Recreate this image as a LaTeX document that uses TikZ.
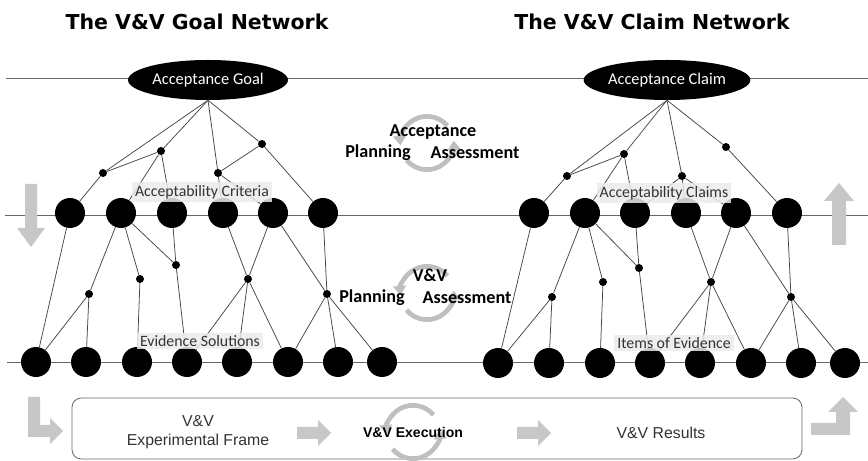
\documentclass[tikz,border=0pt]{standalone}
\usepackage{fontspec}
\setmainfont{Carlito}
\newfontfamily\arialfont{Liberation Sans}
\newfontfamily\heavyfont{DejaVu Sans}
\usetikzlibrary{arrows.meta,shapes.geometric}

\begin{document}
\begin{tikzpicture}[x=0.03cm, y=-0.03cm, >=Stealth]
  % pixel-like grid: x to the right, y downwards
  \tikzset{
    topnode/.style = {ellipse, fill=black, text=white, minimum width=4.8cm, minimum height=1.2cm, inner sep=0pt, font=\fontsize{14}{16}\selectfont},
    bignode/.style = {circle, fill=black, minimum size=0.9cm, inner sep=0pt},
    dot/.style     = {circle, fill=black, minimum size=0.24cm, inner sep=0pt},
    tie/.style     = {draw=black!72, line width=0.65pt},
    hline/.style   = {draw=black!60, line width=0.7pt},
    lab/.style     = {fill=black!8, fill opacity=0.85, text opacity=1, text=black!80, inner sep=2.5pt, font=\fontsize{13.5}{15}\selectfont},
    title/.style   = {font=\heavyfont\bfseries\fontsize{17.5}{20}\selectfont},
    phase/.style   = {font=\bfseries\fontsize{15.5}{17}\selectfont},
    boxtxt/.style  = {align=center, text=black!80, font=\arialfont\fontsize{13.5}{16}\selectfont},
    garrow/.style  = {fill=black!22},
    cyc/.style     = {draw=black!25, line width=4pt, -{Triangle[length=8pt, width=11pt]}},
    pics/turnaround/.style = {code={
      \draw[cyc] (40:0.8cm) arc[start angle=40, end angle=185, radius=0.8cm];
      \draw[cyc] (220:0.8cm) arc[start angle=220, end angle=365, radius=0.8cm];
    }}
  }
  \useasboundingbox (0,0) rectangle (868,461);

  % ========= titles =========
  \node[title] (gtitle) at (197,22) {The V\&V Goal Network};
  \node[title] (ctitle) at (652,22) {The V\&V Claim Network};

  % ========= the three levels =========
  \draw[hline] (6,78) -- (868,78);
  \draw[hline] (5,215) -- (868,215);
  \draw[hline] (7,362) -- (868,362);

  % ========= cycles in the middle =========
  \pic at (427,143) {turnaround};
  \node[phase] (acc) at (433,132) {Acceptance};
  \node[phase] (accp) at (378,153) {Planning};
  \node[phase] (acca) at (475,153) {Assessment};
  \pic at (427,293) {turnaround};
  \node[phase] (vv) at (430,275) {V\&V};
  \node[phase] (vvp) at (372,298) {Planning};
  \node[phase] (vva) at (467,298) {Assessment};

  % ========= Goal network =========
  \node[topnode] (goal) at (208,80) {Acceptance Goal};
  \node[dot] (gt1) at (103,173) {};
  \node[dot] (gt2) at (161,151) {};
  \node[dot] (gt3) at (218,173) {};
  \node[dot] (gt4) at (262,144) {};
  \foreach \x [count=\i] in {70,121,172,223,273,323} { \node[bignode] (gm\i) at (\x,213) {}; }
  \node[dot] (gj1) at (89,294) {};
  \node[dot] (gj2) at (140,279) {};
  \node[dot] (gj3) at (176,265) {};
  \node[dot] (gj4) at (248,279) {};
  \node[dot] (gj5) at (327,294) {};
  \foreach \x [count=\i] in {36,86,137,187,237,288,338,382} { \node[bignode] (gv\i) at (\x,362) {}; }
  % goal -> criteria
  \draw[tie] (goal.south) -- (gt1) -- (gm1);
  \draw[tie] (goal.south) -- (gt2);
  \draw[tie] (gt2) -- (gt1);
  \draw[tie] (gt2) -- (gm2);
  \draw[tie] (gt2) -- (gm3);
  \draw[tie] (goal.south) -- (gt3) -- (gm4);
  \draw[tie] (gt3) -- (gm5);
  \draw[tie] (gt3) -- (gt4);
  \draw[tie] (goal.south) -- (gt4) -- (gm6);
  % criteria -> evidence
  \draw[tie] (gm1) -- (gv1);
  \draw[tie] (gm2) -- (gj1);
  \draw[tie] (gj1) -- (gv1);
  \draw[tie] (gj1) -- (gv2);
  \draw[tie] (gm2) -- (gj2) -- (gv3);
  \draw[tie] (gm2) -- (gj3);
  \draw[tie] (gm3) -- (gj3) -- (gv4);
  \draw[tie] (gm4) -- (gj4);
  \draw[tie] (gm5) -- (gj4);
  \draw[tie] (gj4) -- (gv4);
  \draw[tie] (gj4) -- (gv5);
  \draw[tie] (gj4) -- (gv6);
  \draw[tie] (gm5) -- (gj5);
  \draw[tie] (gm6) -- (gj5);
  \draw[tie] (gj5) -- (gv6);
  \draw[tie] (gj5) -- (gv7);
  \draw[tie] (gj5) -- (gv8);
  \node[lab] (crit) at (202,192) {Acceptability Criteria};
  \node[lab] (sol) at (200,341) {Evidence Solutions};

  % ========= Claim network =========
  \node[topnode] (claim) at (667,80) {Acceptance Claim};
  \node[dot] (ct1) at (567,176) {};
  \node[dot] (ct2) at (624,154) {};
  \node[dot] (ct3) at (682,176) {};
  \node[dot] (ct4) at (726,147) {};
  \foreach \x [count=\i] in {534,585,635,686,736,787} { \node[bignode] (cm\i) at (\x,213) {}; }
  \node[dot] (cj1) at (552,297) {};
  \node[dot] (cj2) at (603,282) {};
  \node[dot] (cj3) at (639,268) {};
  \node[dot] (cj4) at (711,282) {};
  \node[dot] (cj5) at (791,297) {};
  \foreach \x [count=\i] in {498,549,600,650,700,751,801,845} { \node[bignode] (cv\i) at (\x,363) {}; }
  % claim -> claims
  \draw[tie] (claim.south) -- (ct1) -- (cm1);
  \draw[tie] (claim.south) -- (ct2);
  \draw[tie] (ct2) -- (ct1);
  \draw[tie] (ct2) -- (cm2);
  \draw[tie] (ct2) -- (cm3);
  \draw[tie] (claim.south) -- (ct3) -- (cm4);
  \draw[tie] (ct3) -- (cm3);
  \draw[tie] (ct3) -- (cm5);
  \draw[tie] (claim.south) -- (ct4) -- (cm6);
  % claims -> items
  \draw[tie] (cm1) -- (cv1);
  \draw[tie] (cm2) -- (cj1);
  \draw[tie] (cj1) -- (cv1);
  \draw[tie] (cj1) -- (cv2);
  \draw[tie] (cm2) -- (cj2) -- (cv3);
  \draw[tie] (cm2) -- (cj3);
  \draw[tie] (cm3) -- (cj3) -- (cv4);
  \draw[tie] (cm4) -- (cj4);
  \draw[tie] (cm5) -- (cj4);
  \draw[tie] (cj4) -- (cv4);
  \draw[tie] (cj4) -- (cv5);
  \draw[tie] (cj4) -- (cv6);
  \draw[tie] (cm5) -- (cj5);
  \draw[tie] (cm6) -- (cj5);
  \draw[tie] (cj5) -- (cv6);
  \draw[tie] (cj5) -- (cv7);
  \draw[tie] (cj5) -- (cv8);
  \node[lab] (aclaims) at (664,193) {Acceptability Claims};
  \node[lab] (items) at (674,343) {Items of Evidence};

  % ========= side arrows =========
  \fill[garrow] (25,184) -- (37,184) -- (37,228) -- (45,228) -- (31,247) -- (17,228) -- (25,228) -- cycle;
  \fill[garrow] (832,245) -- (846,245) -- (846,201) -- (854,201) -- (839,183) -- (824,201) -- (832,201) -- cycle;

  % ========= execution band =========
  \draw[draw=black!60, line width=0.7pt, rounded corners=8pt] (72,398) rectangle (802,459);
  \pic at (413,432) {turnaround};
  \node[boxtxt] (frame) at (198,432) {V\&V\\Experimental Frame};
  \node[boxtxt, font=\arialfont\bfseries\fontsize{12}{14}\selectfont, text=black] (exec) at (413,432) {V\&V Execution};
  \node[boxtxt] (results) at (661,433) {V\&V Results};
  \fill[garrow] (297,427) -- (318,427) -- (318,420) -- (331,433) -- (318,446) -- (318,439) -- (297,439) -- cycle;
  \fill[garrow] (517,427) -- (538,427) -- (538,420) -- (551,433) -- (538,446) -- (538,439) -- (517,439) -- cycle;
  \fill[garrow] (28,397) -- (40,397) -- (40,425) -- (50,425) -- (50,418) -- (63,431) -- (50,444) -- (50,437) -- (28,437) -- cycle;
  \fill[garrow] (811,423) -- (836,423) -- (836,412) -- (828,412) -- (843,397) -- (858,412) -- (850,412) -- (850,435) -- (811,435) -- cycle;
\end{tikzpicture}
\end{document}
